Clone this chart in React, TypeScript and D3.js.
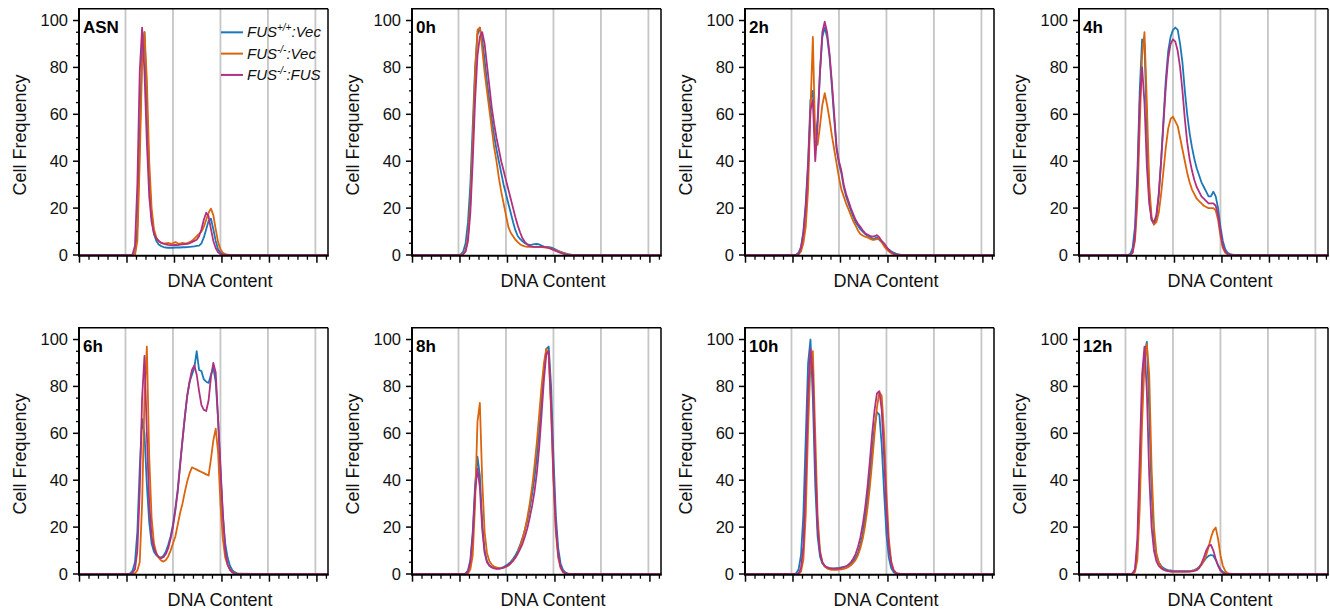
import React from "react";
import * as d3 from "d3";

// DNA content channels at which each histogram is sampled
const CHANNELS = [
  200, 210, 220, 230, 240, 250, 260, 270, 280, 290,
  300, 310, 320, 330, 340, 350, 360, 370, 380, 390,
  400, 410, 420, 430, 440, 450, 460, 470, 480, 490,
  500, 510, 520, 530, 540, 550, 560, 570, 580, 590,
  600, 610, 620, 630, 640, 650, 660, 670, 680,
];

const SERIES_COLORS = ["#1a78b8", "#dc640c", "#b0317f"];
const Y_TICKS = [0, 20, 40, 60, 80, 100];
const X_MAJOR = [0, 200, 400, 600, 800, 1000];
const GRID_LINES = [200, 400, 600, 800, 1000];

// ASN
const asnBlue = [
  0, 0, 0, 0, 0.5, 12, 50, 88, 95, 65,
  33, 16, 9, 6, 4.5, 3.8, 3.4, 3.2, 3.1, 3.1,
  3.1, 3.2, 3.2, 3.2, 3.3, 3.3, 3.4, 3.5, 3.6, 3.7,
  3.9, 4, 5, 7.5, 11, 14.5, 15.5, 11, 6, 2.5,
  1, 0.4, 0.1, 0, 0, 0, 0, 0, 0,
];
const asnOrange = [
  0, 0, 0, 0, 0, 6, 40, 82, 95, 75,
  40, 20, 11, 7.5, 6, 5.2, 5, 5, 5.2, 4.8,
  5, 5.5, 5, 4.8, 5.2, 5, 5, 5.5, 6, 7,
  8, 9, 10, 12, 15, 18, 19.8, 17, 11, 5.5,
  2.5, 1, 0.4, 0.1, 0, 0, 0, 0, 0,
];
const asnMagenta = [
  0, 0, 0, 0.3, 4, 30, 78, 97, 78, 48,
  25, 14, 9, 7, 6, 5.2, 4.8, 4.5, 4.3, 4.2,
  4.2, 4.3, 4.2, 4.4, 4.5, 4.6, 4.8, 5, 5.5, 6,
  6.5, 8, 11, 15, 18, 16.5, 11, 6, 3, 1.2,
  0.4, 0.1, 0, 0, 0, 0, 0, 0, 0,
];

// 0h
const h0Blue = [
  0, 0.3, 1.5, 5, 14, 30, 55, 80, 94, 97,
  92, 83, 74, 66, 58, 51, 45, 40, 35, 30,
  26, 22, 18, 14, 10.5, 8, 6.8, 5.8, 5, 4.5,
  4.3, 4.4, 4.6, 4.7, 4.5, 4, 3.6, 3.4, 3.3, 3.2,
  2.8, 2.3, 1.8, 1.4, 1, 0.7, 0.4, 0.2, 0,
];
const h0Orange = [
  0, 0, 0.5, 2, 8, 22, 48, 78, 96, 97,
  88, 78, 70, 62, 54, 46, 40, 33, 27, 22,
  17, 12, 9.5, 8, 6.5, 5.5, 4.5, 4, 3.7, 3.5,
  3.5, 3.5, 3.5, 3.6, 3.5, 3.4, 3.3, 3.2, 3, 2.7,
  2.3, 2, 1.6, 1.2, 0.8, 0.5, 0.3, 0.1, 0,
];
const h0Magenta = [
  0, 0, 0.3, 1.5, 6, 18, 40, 66, 85, 93,
  95, 90, 81, 72, 63, 56, 50, 45, 40, 36,
  32, 28, 24, 20, 16, 12.5, 9.5, 7, 5.5, 4.5,
  3.9, 3.6, 3.5, 3.5, 3.5, 3.5, 3.5, 3.3, 3, 2.6,
  2.2, 1.7, 1.3, 0.9, 0.6, 0.3, 0.1, 0, 0,
];

// 2h
const h2Blue = [
  0, 0, 0.2, 1, 3.5, 10, 22, 40, 66, 70,
  48, 58, 78, 93, 97, 93, 85, 72, 58, 45,
  39, 35, 29, 25, 22, 19, 16.5, 14, 12.5, 11,
  10, 9, 8.3, 7.8, 7, 7, 7.5, 6.5, 5.5, 4.3,
  3.2, 2.3, 1.6, 1, 0.6, 0.3, 0.15, 0.05, 0,
];
const h2Orange = [
  0, 0, 0, 0.3, 1.5, 5, 12, 28, 62, 93,
  50, 47, 55, 64, 69, 64, 58, 51, 45, 39,
  33, 28, 25, 22, 19.5, 17, 14.5, 12.5, 10.5, 9,
  8.3, 7.8, 7.5, 7, 6.5, 6.5, 6.8, 7, 5.5, 3.8,
  2.5, 1.5, 0.8, 0.3, 0.1, 0, 0, 0, 0,
];
const h2Magenta = [
  0, 0, 0, 0.5, 3, 9, 20, 38, 62, 66,
  40, 55, 78, 95, 99.5, 95, 86, 74, 60, 46,
  40, 36, 30, 26, 23, 20, 17.5, 15, 13.3, 12,
  10.5, 9.3, 8.7, 8.2, 7.8, 8, 8.5, 7.5, 6, 5,
  3.5, 2.2, 1.2, 0.6, 0.3, 0.1, 0, 0, 0,
];

// 4h
const h4Blue = [
  0, 0, 0.5, 3, 12, 35, 70, 92, 90, 55,
  25, 15, 13, 16, 25, 40, 58, 75, 87, 93,
  96, 97, 96, 90, 82, 70, 60, 52, 46, 41,
  37, 34, 31, 29, 27, 25, 25, 27, 25, 20,
  12, 6, 2.5, 1, 0.4, 0.1, 0, 0, 0,
];
const h4Orange = [
  0, 0, 0, 1, 6, 22, 55, 85, 95, 65,
  30, 16, 13, 14, 18, 26, 36, 46, 54, 58,
  59, 57, 55, 50, 45, 40, 35, 31, 28, 26,
  24, 23, 22, 21, 20.5, 20, 20, 20, 19, 15,
  8, 3, 1, 0.3, 0.1, 0, 0, 0, 0,
];
const h4Magenta = [
  0, 0, 0, 1, 8, 30, 65, 80, 65, 38,
  22, 15, 14, 17, 26, 40, 56, 72, 84, 90,
  92, 91, 87, 80, 70, 58, 48, 41, 36, 32,
  29, 27, 25, 24, 23, 22, 22, 22, 21, 17,
  10, 4, 1.5, 0.5, 0.1, 0, 0, 0, 0,
];

// 6h
const h6Blue = [
  0, 0, 0.3, 1.5, 5, 18, 45, 66, 60, 38,
  22, 13, 9.5, 8, 7.2, 7, 7.8, 9.5, 12.5, 16,
  21, 28, 36, 47, 57, 67, 76, 82, 85, 88,
  95, 87, 86.5, 83, 82, 81.5, 85, 88, 82, 66,
  44, 25, 13, 7, 3.5, 1.6, 0.8, 0.3, 0.1,
];
const h6Orange = [
  0, 0, 0, 0, 0.3, 1.5, 5, 30, 75, 97,
  50, 24, 13, 9, 7, 5.8, 5.3, 6, 7.5, 10,
  13, 16, 21, 26, 30, 35, 39.5, 43, 45.5, 45,
  44.5, 44, 43.5, 43, 42.5, 42, 49, 57, 62, 52,
  30, 15, 7, 4, 2, 0.8, 0.3, 0.1, 0,
];
const h6Magenta = [
  0, 0, 0, 0.5, 2, 10, 35, 75, 93, 60,
  30, 16, 11, 8.5, 7.2, 6.8, 7.2, 8.5, 11, 15,
  20, 27, 35, 46, 57, 67, 76, 82, 87, 89,
  85, 78, 72, 70, 69.5, 74, 84, 90, 86, 66,
  46, 26, 10, 4, 1.8, 0.7, 0.2, 0, 0,
];

// 8h
const h8Blue = [
  0, 0, 0, 0.3, 1.5, 6, 18, 38, 50, 42,
  22, 10, 5.5, 3.8, 3, 2.6, 2.4, 2.4, 2.6, 3,
  3.6, 4.3, 5.2, 6.5, 8, 10, 12.5, 15.5, 19, 23,
  28, 34, 41, 50, 61, 74, 87, 96, 97, 80,
  50, 25, 11, 4.5, 1.8, 0.7, 0.2, 0, 0,
];
const h8Orange = [
  0, 0, 0, 0, 0.3, 2, 8, 30, 65, 73,
  40, 18, 9, 5.5, 4, 3.2, 2.8, 2.5, 2.5, 2.7,
  3, 3.5, 4.5, 6, 7, 9, 12, 15, 19, 24,
  30, 37, 46, 56, 68, 80, 90, 96, 93, 70,
  40, 18, 7, 2.5, 0.8, 0.2, 0, 0, 0,
];
const h8Magenta = [
  0, 0, 0, 0.2, 1, 5, 16, 35, 45, 37,
  19, 9, 5, 3.5, 2.8, 2.4, 2.2, 2.2, 2.4, 2.7,
  3.2, 3.8, 4.6, 5.6, 7, 8.7, 10.7, 13, 16, 19.5,
  24, 29, 35, 43, 54, 68, 83, 94, 95, 72,
  42, 20, 8, 3, 1, 0.3, 0.1, 0, 0,
];

// 10h
const h10Blue = [
  0, 0, 0.3, 2, 8, 25, 58, 90, 100, 75,
  38, 16, 7.5, 4.5, 3.3, 2.8, 2.5, 2.4, 2.4, 2.5,
  2.6, 2.8, 3, 3.3, 3.8, 4.5, 5.5, 7, 9, 12.5,
  17, 24, 32, 42, 53, 63, 69, 68, 55, 35,
  17, 7, 2.5, 0.8, 0.2, 0, 0, 0, 0,
];
const h10Orange = [
  0, 0, 0, 0, 1, 6, 25, 62, 90, 95,
  60, 25, 10, 5, 3.2, 2.4, 2, 1.8, 1.8, 1.8,
  1.9, 2, 2.2, 2.5, 3, 3.7, 4.7, 6, 8, 11,
  15, 20.5, 28, 37, 48, 60, 71, 77.5, 76, 60,
  35, 15, 5.5, 1.8, 0.5, 0.1, 0, 0, 0,
];
const h10Magenta = [
  0, 0, 0, 0.3, 2.5, 12, 40, 78, 96, 85,
  48, 20, 9, 5, 3.5, 2.8, 2.5, 2.3, 2.3, 2.3,
  2.4, 2.6, 2.9, 3.3, 4, 5, 6.5, 8.5, 11.5, 15.5,
  21, 28, 37, 48, 60, 70, 77, 78, 70, 50,
  27, 12, 4.5, 1.5, 0.5, 0.1, 0, 0, 0,
];

// 12h
const h12Blue = [
  0, 0, 0, 0.2, 1.5, 10, 38, 75, 94, 99,
  70, 35, 16, 8, 5, 3.5, 2.5, 2, 1.7, 1.5,
  1.3, 1.2, 1.2, 1.2, 1.2, 1.2, 1.2, 1.2, 1.4, 1.7,
  2.2, 3, 4.2, 5.5, 6.8, 7.7, 8.1, 7.8, 6, 3.8,
  2, 0.9, 0.4, 0.1, 0, 0, 0, 0, 0,
];
const h12Orange = [
  0, 0, 0, 0, 0.8, 6, 28, 65, 90, 98,
  85, 45, 20, 9, 5, 3, 2, 1.5, 1.2, 1,
  1, 1, 1.1, 1, 1, 1, 1, 1.1, 1.2, 1.5,
  2, 2.7, 3.8, 5.5, 8, 11.5, 15.5, 18.5, 19.8, 15,
  8, 3.5, 1.3, 0.4, 0.1, 0, 0, 0, 0,
];
const h12Magenta = [
  0, 0, 0, 0.3, 2, 15, 50, 85, 97, 78,
  42, 20, 10, 5.5, 3.5, 2.5, 1.8, 1.4, 1.2, 1.1,
  1, 1, 1, 1, 1, 1, 1, 1, 1.1, 1.3,
  1.6, 2.5, 4.5, 7, 10, 12, 12.4, 10, 6.5, 3.5,
  1.5, 0.5, 0.1, 0, 0, 0, 0, 0, 0,
];

const PANEL_LABELS = ["ASN", "0h", "2h", "4h", "6h", "8h", "10h", "12h"];
const PANEL_SERIES = [
  [asnBlue, asnOrange, asnMagenta],
  [h0Blue, h0Orange, h0Magenta],
  [h2Blue, h2Orange, h2Magenta],
  [h4Blue, h4Orange, h4Magenta],
  [h6Blue, h6Orange, h6Magenta],
  [h8Blue, h8Orange, h8Magenta],
  [h10Blue, h10Orange, h10Magenta],
  [h12Blue, h12Orange, h12Magenta],
];

// layout
const COL_LEFT = [79, 412, 745, 1079];
const ROW_ZERO = [255, 574];
const PLOT_W = 249;
const PLOT_H = 246.2;
const X_MAX = 1053;
const Y_MAX = 105;
const FONT = "'Liberation Sans', Arial, Helvetica, sans-serif";

type Pt = [number, number];

function Legend({ left, top }: { left: number; top: number }) {
  const rows = [
    { sup: "+/+", tail: ":Vec" },
    { sup: "-/-", tail: ":Vec" },
    { sup: "-/-", tail: ":FUS" },
  ];
  return (
    <g>
      {rows.map((r, i) => {
        const yy = top + i * 21.3;
        return (
          <g key={i}>
            <line x1={left} x2={left + 22} y1={yy} y2={yy} stroke={SERIES_COLORS[i]} strokeWidth={2} />
            <text x={left + 26} y={yy + 5} fontSize={15} fontStyle="italic" fill="#111">
              <tspan>FUS</tspan>
              <tspan fontSize={10} dy={-6}>{r.sup}</tspan>
              <tspan dy={6}>{r.tail}</tspan>
            </text>
          </g>
        );
      })}
    </g>
  );
}

function Panel({ idx }: { idx: number }) {
  const left = COL_LEFT[idx % 4];
  const zero = ROW_ZERO[Math.floor(idx / 4)];
  const right = left + PLOT_W;
  const x = d3.scaleLinear().domain([0, X_MAX]).range([left - 1, right]);
  const y = d3.scaleLinear().domain([0, Y_MAX]).range([zero, zero - PLOT_H]);
  const top = y(Y_MAX);
  const axisY = zero + 0.7;
  const line = d3
    .line<Pt>()
    .x((d) => x(d[0]))
    .y((d) => y(d[1]));
  const toPoints = (vals: number[]): Pt[] => [
    [0, 0],
    ...CHANNELS.map((c, i) => [c, vals[i]] as Pt),
    [X_MAX, 0],
  ];
  const clipId = `plot-clip-${idx}`;
  const yMinor = d3.range(5, 100, 5).filter((v) => v % 20 !== 0);
  const xMinor = d3.range(40, X_MAX, 40).filter((v) => v % 200 !== 0);

  return (
    <g>
      <defs>
        <clipPath id={clipId}>
          <rect x={left} y={top} width={PLOT_W} height={axisY - top} />
        </clipPath>
      </defs>
      {GRID_LINES.map((g) => (
        <line key={g} x1={x(g)} x2={x(g)} y1={top} y2={axisY} stroke="#c6c6c6" strokeWidth={1.8} />
      ))}
      <g clipPath={`url(#${clipId})`}>
        {PANEL_SERIES[idx].map((vals, s) => (
          <path
            key={s}
            d={line(toPoints(vals)) || ""}
            fill="none"
            stroke={SERIES_COLORS[s]}
            strokeWidth={1.8}
            strokeLinejoin="round"
          />
        ))}
      </g>
      {/* frame */}
      <line x1={left} x2={right} y1={top} y2={top} stroke="#000" strokeWidth={1.5} />
      <line x1={right} x2={right} y1={top} y2={axisY} stroke="#000" strokeWidth={1.5} />
      <line x1={left} x2={right + 0.75} y1={axisY} y2={axisY} stroke="#000" strokeWidth={2} />
      <line x1={left} x2={left} y1={top - 0.75} y2={axisY + 1} stroke="#000" strokeWidth={2} />
      {/* y ticks */}
      {Y_TICKS.map((t) => (
        <g key={t}>
          <line x1={left - 6} x2={left} y1={y(t)} y2={y(t)} stroke="#000" strokeWidth={1.5} />
          <text x={left - 11} y={y(t)} dy="0.36em" textAnchor="end" fontSize={16.5} fill="#111">
            {t}
          </text>
        </g>
      ))}
      {yMinor.map((t) => (
        <line key={t} x1={left - 3} x2={left} y1={y(t)} y2={y(t)} stroke="#000" strokeWidth={1.3} />
      ))}
      {/* x ticks */}
      {X_MAJOR.map((t) => (
        <line key={t} x1={x(t) + 1.5} x2={x(t) + 1.5} y1={axisY} y2={axisY + 7} stroke="#000" strokeWidth={1.5} />
      ))}
      {xMinor.map((t) => (
        <line key={t} x1={x(t) + 1.5} x2={x(t) + 1.5} y1={axisY} y2={axisY + 4} stroke="#000" strokeWidth={1.3} />
      ))}
      {/* titles */}
      <text
        transform={`translate(${left - 59},${zero - 120}) rotate(-90)`}
        textAnchor="middle"
        dy="0.35em"
        fontSize={18}
        fill="#111"
      >
        Cell Frequency
      </text>
      <text x={left + 141} y={zero + 32} textAnchor="middle" fontSize={18} fill="#111">
        DNA Content
      </text>
      <text x={left + 4} y={y(100) + 12.5} fontSize={17} fontWeight="bold" fill="#000">
        {PANEL_LABELS[idx]}
      </text>
      {idx === 0 && <Legend left={left + 142} top={y(100) + 11.8} />}
    </g>
  );
}

export default function App() {
  return (
    <div style={{ position: "absolute", left: 0, top: 0 }}>
      <svg width={1330} height={614} style={{ display: "block", background: "#fff", fontFamily: FONT }}>
        {PANEL_LABELS.map((_, i) => (
          <Panel key={i} idx={i} />
        ))}
      </svg>
    </div>
  );
}
